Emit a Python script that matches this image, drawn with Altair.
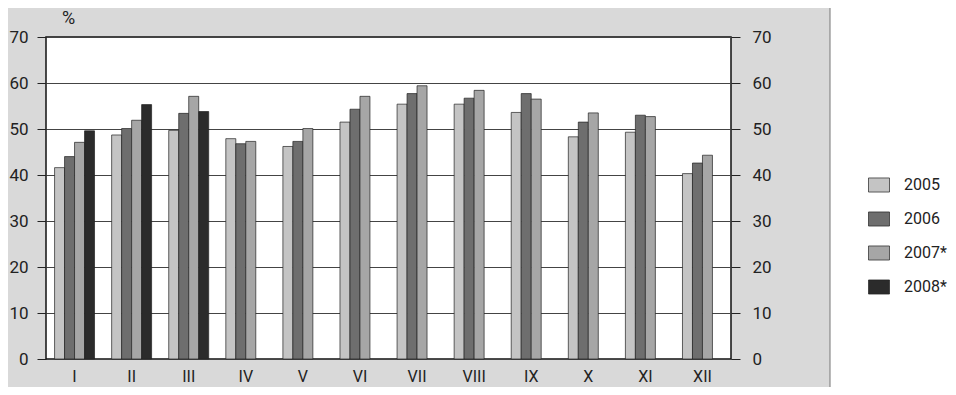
import altair as alt
import pandas as pd

months = ["I", "II", "III", "IV", "V", "VI", "VII", "VIII", "IX", "X", "XI", "XII"]
years = ["2005", "2006", "2007*", "2008*"]
v2005 = [41.6, 48.7, 49.7, 47.9, 46.2, 51.5, 55.4, 55.4, 53.6, 48.3, 49.3, 40.3]
v2006 = [44.0, 50.1, 53.4, 46.8, 47.3, 54.3, 57.7, 56.7, 57.7, 51.5, 53.0, 42.6]
v2007 = [47.1, 51.9, 57.1, 47.3, 50.1, 57.1, 59.4, 58.4, 56.5, 53.5, 52.7, 44.3]
v2008 = [49.6, 55.3, 53.8]
colors = ["#c4c4c4", "#6e6e6e", "#a6a6a6", "#2b2b2b"]

rows = []
for series, yr in zip([v2005, v2006, v2007, v2008], years):
    for m, v in zip(months, series):
        rows.append({"month": m, "year": yr, "value": v})
df = pd.DataFrame(rows)

FONT = "Roboto, sans-serif"
FS = 17
W, H = 685, 322

x_enc = alt.X("month:N", sort=months,
              scale=alt.Scale(paddingInner=0.3, paddingOuter=0.15),
              axis=alt.Axis(title=None, labelAngle=0, ticks=False, domain=False,
                            labelPadding=9, labelFontSize=16, labelFont=FONT,
                            labelColor="#222"))
xo_enc = alt.XOffset("year:N", scale=alt.Scale(domain=years, paddingInner=0, paddingOuter=0))
y_scale = alt.Scale(domain=[0, 70], nice=False)

bars = alt.Chart(df).mark_bar(stroke="#222", strokeWidth=0.7).encode(
    x=x_enc,
    xOffset=xo_enc,
    y=alt.Y("value:Q", scale=y_scale,
            axis=alt.Axis(orient="left", values=list(range(0, 80, 10)), title="%",
                          titleAngle=0, titleX=22, titleY=-19, titleAlign="center",
                          titleBaseline="middle", titleFontSize=18, titleFontWeight="normal",
                          titleFont=FONT, titleColor="#222",
                          grid=True, gridColor="#444", gridWidth=1,
                          tickSize=9, tickColor="#222", domain=False,
                          labelFontSize=FS, labelFont=FONT, labelPadding=9,
                          labelColor="#222")),
    color=alt.Color("year:N", scale=alt.Scale(domain=years, range=colors),
                    legend=alt.Legend(title=None, orient="none", legendX=822, legendY=137,
                                      symbolType="M-1,-0.67H1V0.67H-1Z", symbolSize=441,
                                      symbolStrokeColor="#222", symbolStrokeWidth=0.7,
                                      symbolOpacity=1,
                                      labelFontSize=16, labelFont=FONT, labelColor="#222",
                                      labelOffset=14, rowPadding=14)),
)

right = alt.Chart(df).mark_bar(opacity=0).encode(
    x=x_enc,
    xOffset=xo_enc,
    y=alt.Y("value:Q", scale=y_scale,
            axis=alt.Axis(orient="right", values=list(range(0, 80, 10)), title=None,
                          grid=False, tickSize=9, tickColor="#222", domain=False,
                          labelFontSize=FS, labelFont=FONT, labelPadding=12,
                          labelColor="#222")),
)

one = pd.DataFrame({"a": [0]})
white_panel = alt.Chart(one).mark_rect(fill="white").encode(
    x=alt.value(784), x2=alt.value(1200), y=alt.value(-40), y2=alt.value(400)
)
divider = alt.Chart(one).mark_rule(color="#777", strokeWidth=1).encode(
    x=alt.value(784), y=alt.value(-40), y2=alt.value(400)
)

chart = alt.layer(white_panel, divider, bars, right).resolve_axis(y="independent").resolve_scale(
    y="shared"
).properties(
    width=W, height=H,
    padding={"left": 38, "top": 29, "right": 217, "bottom": 28},
    autosize=alt.AutoSizeParams(type="none"),
    background="#d9d9d9",
).configure_view(
    fill="white", stroke="#111", strokeWidth=1.5
)

chart.save("out.html", embed_options={"renderer": "svg", "actions": False})
